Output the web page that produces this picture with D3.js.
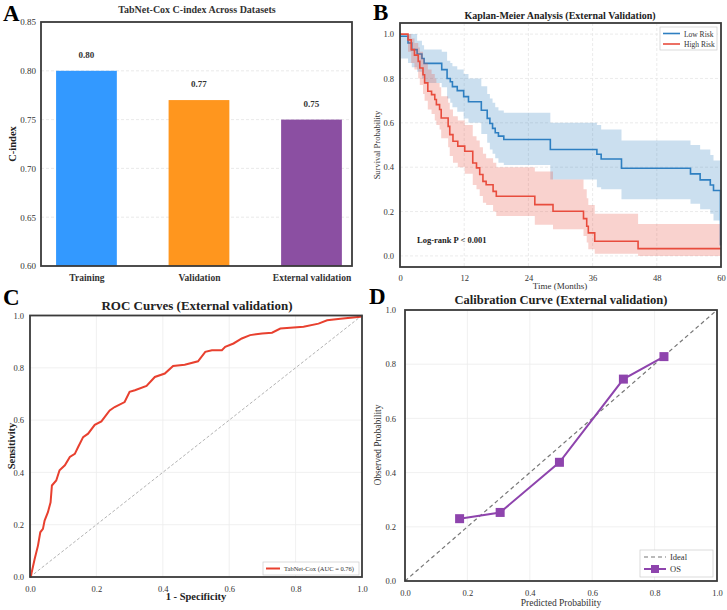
<!DOCTYPE html>
<html>
<head>
<meta charset="utf-8">
<script src="https://d3js.org/d3.v7.min.js"></script>
<style>
  body { margin: 0; background: #fff; }
  svg text { font-family: "Liberation Serif", "Times New Roman", serif; }
</style>
</head>
<body>
<svg id="fig" width="727" height="610"></svg>
<script>
// ---- data ----
const categories = ["Training", "Validation", "External validation"];
const cindex = [0.80, 0.77, 0.75];
const barColors = ["#3399ff", "#ff961e", "#8b4fa2"];
const cindexTicks = [0.60, 0.65, 0.70, 0.75, 0.80, 0.85];

// Kaplan-Meier, low risk
const lowTime  = [0, 1.5, 2.2, 3.2, 4.1, 4.5, 7.8, 8.8, 9.4, 9.8, 10.7, 11.9, 12.8, 15.2, 16.3, 16.8, 17.3, 17.8, 18.4, 19.4, 28.1, 36.8, 37.6, 41.4, 54.3, 56.1, 58.0, 58.6, 59.9];
const lowSurv  = [0.99, 0.96, 0.93, 0.91, 0.89, 0.868, 0.84, 0.80, 0.785, 0.763, 0.745, 0.718, 0.695, 0.657, 0.62, 0.597, 0.575, 0.555, 0.54, 0.525, 0.48, 0.458, 0.437, 0.395, 0.37, 0.343, 0.32, 0.295, 0.05];
const lowLower = [0.89, 0.87, 0.85, 0.83, 0.80, 0.78, 0.76, 0.71, 0.69, 0.67, 0.65, 0.62, 0.60, 0.55, 0.51, 0.48, 0.46, 0.44, 0.42, 0.41, 0.345, 0.31, 0.30, 0.255, 0.235, 0.21, 0.19, 0.16, 0.16];
const lowUpper = [1.0, 1.0, 1.0, 0.97, 0.95, 0.93, 0.92, 0.88, 0.87, 0.855, 0.84, 0.82, 0.80, 0.765, 0.73, 0.71, 0.69, 0.67, 0.655, 0.645, 0.60, 0.59, 0.57, 0.52, 0.50, 0.48, 0.455, 0.43, 0.43];

// Kaplan-Meier, high risk
const highTime  = [0, 1.5, 2.1, 2.7, 3.4, 3.7, 4.3, 4.6, 5.2, 5.9, 6.5, 6.8, 7.4, 7.7, 9.0, 9.3, 9.9, 10.8, 12.1, 13.6, 14.3, 14.9, 15.5, 16.1, 17.4, 18.0, 25.2, 28.6, 34.3, 34.9, 35.2, 36.4, 44.5];
const highSurv  = [1.0, 0.974, 0.93, 0.905, 0.877, 0.847, 0.817, 0.78, 0.742, 0.727, 0.705, 0.682, 0.66, 0.622, 0.584, 0.547, 0.517, 0.495, 0.472, 0.419, 0.397, 0.367, 0.336, 0.321, 0.291, 0.269, 0.231, 0.201, 0.168, 0.134, 0.104, 0.066, 0.033];
const highLower = [1.0, 0.92, 0.87, 0.84, 0.80, 0.77, 0.73, 0.70, 0.66, 0.64, 0.61, 0.59, 0.57, 0.53, 0.49, 0.45, 0.42, 0.40, 0.37, 0.32, 0.30, 0.27, 0.24, 0.23, 0.20, 0.18, 0.14, 0.12, 0.09, 0.06, 0.03, 0.01, 0.0];
const highUpper = [1.0, 1.0, 0.98, 0.96, 0.94, 0.92, 0.89, 0.87, 0.84, 0.82, 0.80, 0.78, 0.76, 0.72, 0.69, 0.66, 0.63, 0.61, 0.59, 0.54, 0.52, 0.49, 0.46, 0.44, 0.42, 0.40, 0.38, 0.344, 0.30, 0.26, 0.23, 0.19, 0.144];
const timeTicks = [0, 12, 24, 36, 48, 60];

// ROC curve
const rocFpr = [0, 0.002, 0.014, 0.024, 0.031, 0.039, 0.044, 0.054, 0.062, 0.066, 0.079, 0.089, 0.105, 0.12, 0.135, 0.145, 0.16, 0.175, 0.195, 0.215, 0.24, 0.255, 0.285, 0.30, 0.316, 0.351, 0.376, 0.406, 0.431, 0.466, 0.506, 0.528, 0.548, 0.578, 0.588, 0.613, 0.638, 0.663, 0.699, 0.729, 0.754, 0.824, 0.869, 0.895, 0.935, 0.995, 1.0];
const rocTpr = [0, 0.0, 0.069, 0.12, 0.171, 0.184, 0.216, 0.248, 0.286, 0.35, 0.369, 0.408, 0.427, 0.459, 0.471, 0.497, 0.535, 0.548, 0.582, 0.595, 0.637, 0.65, 0.669, 0.708, 0.714, 0.731, 0.765, 0.778, 0.807, 0.812, 0.825, 0.861, 0.867, 0.867, 0.88, 0.893, 0.912, 0.925, 0.931, 0.934, 0.95, 0.957, 0.969, 0.982, 0.988, 0.995, 1.0];

// Calibration
const calPred = [0.175, 0.305, 0.495, 0.70, 0.83];
const calObs  = [0.23, 0.253, 0.438, 0.745, 0.828];
const probTicks = [0, 0.2, 0.4, 0.6, 0.8, 1.0];

const lowColor = "#2e7fc1", highColor = "#e84c3d", calColor = "#8e44ad";

const svg = d3.select("#fig");

function frame(g, x0, x1, y0, y1) {
  g.append("rect").attr("x", x0).attr("y", y0).attr("width", x1 - x0).attr("height", y1 - y0)
    .attr("fill", "none").attr("stroke", "#3a3a3a").attr("stroke-width", 1.8);
}
function styleAxis(sel, size) {
  sel.select(".domain").remove();
  sel.selectAll(".tick line").remove();
  sel.selectAll("text").attr("font-size", size).attr("fill", "#333")
    .style("font-family", "'Liberation Serif', serif");
}
function letter(t, x, y) {
  svg.append("text").attr("x", x).attr("y", y).text(t)
    .attr("font-size", 23).attr("font-weight", "bold").attr("fill", "#000");
}

// ===== Panel A: bar chart =====
(function () {
  const g = svg.append("g");
  const x = d3.scaleLinear().domain([-0.404, 2.36]).range([41, 352]);
  const y = d3.scaleLinear().domain([0.60, 0.85]).range([266, 22]);
  g.selectAll(".grid").data(cindexTicks.slice(1, -1)).enter().append("line")
    .attr("x1", 41).attr("x2", 352).attr("y1", d => y(d)).attr("y2", d => y(d))
    .attr("stroke", "#e4e4e4").attr("stroke-dasharray", "3,2").attr("stroke-width", 0.8);
  const bw = 0.54;
  g.selectAll(".bar").data(cindex).enter().append("rect")
    .attr("x", (d, i) => x(i - bw / 2)).attr("width", x(bw) - x(0))
    .attr("y", d => y(d)).attr("height", d => y(0.60) - y(d))
    .attr("fill", (d, i) => barColors[i]);
  g.selectAll(".val").data(cindex).enter().append("text")
    .attr("x", (d, i) => x(i)).attr("y", d => y(d) - 13)
    .attr("text-anchor", "middle").attr("font-size", 9).attr("font-weight", "bold").attr("fill", "#333")
    .text(d => d.toFixed(2));
  const ya = g.append("g").attr("transform", "translate(36,0)")
    .call(d3.axisLeft(y).tickValues(cindexTicks).tickFormat(d3.format(".2f")).tickSize(0));
  styleAxis(ya, 9);
  ya.selectAll("text").attr("x", 0);
  const xa = g.append("g").attr("transform", "translate(0,272)")
    .call(d3.axisBottom(x).tickValues([0, 1, 2]).tickFormat(i => categories[i]).tickSize(0));
  styleAxis(xa, 9.5);
  xa.selectAll("text").attr("font-weight", "bold").attr("dy", "0.71em").attr("y", 2);
  frame(g, 41, 352, 22, 266);
  g.append("text").attr("x", 197).attr("y", 13).attr("text-anchor", "middle")
    .attr("font-size", 10).attr("font-weight", "bold").attr("fill", "#333")
    .text("TabNet-Cox C-index Across Datasets");
  g.append("text").attr("transform", "translate(16,144) rotate(-90)").attr("text-anchor", "middle")
    .attr("font-size", 10.5).attr("font-weight", "bold").attr("fill", "#222").text("C-index");
  letter("A", 3, 21);
})();

// ===== Panel B: Kaplan-Meier =====
(function () {
  const g = svg.append("g");
  const x = d3.scaleLinear().domain([0, 60]).range([400, 721]);
  const y = d3.scaleLinear().domain([-0.05, 1.05]).range([267, 23]);
  timeTicks.slice(1, -1).forEach(t => g.append("line")
    .attr("x1", x(t)).attr("x2", x(t)).attr("y1", 23).attr("y2", 267)
    .attr("stroke", "#e6e6e6").attr("stroke-dasharray", "3,2").attr("stroke-width", 0.8));
  [0, 0.2, 0.4, 0.6, 0.8, 1.0].forEach(v => g.append("line")
    .attr("x1", 400).attr("x2", 721).attr("y1", y(v)).attr("y2", y(v))
    .attr("stroke", "#e6e6e6").attr("stroke-dasharray", "3,2").attr("stroke-width", 0.8));

  function series(time, surv, lo, up, color) {
    const pts = time.map((t, i) => ({ t: t, s: surv[i], lo: lo[i], up: up[i] }));
    const last = pts[pts.length - 1];
    pts.push({ t: 60, s: last.s, lo: last.lo, up: last.up });
    g.append("path").datum(pts)
      .attr("d", d3.area().curve(d3.curveStepAfter).x(d => x(d.t)).y0(d => y(d.lo)).y1(d => y(d.up)))
      .attr("fill", color).attr("fill-opacity", 0.25);
    g.append("path").datum(pts)
      .attr("d", d3.line().curve(d3.curveStepAfter).x(d => x(d.t)).y(d => y(d.s)))
      .attr("fill", "none").attr("stroke", color).attr("stroke-width", 1.6);
  }
  series(lowTime, lowSurv, lowLower, lowUpper, lowColor);
  series(highTime, highSurv, highLower, highUpper, highColor);

  const xa = g.append("g").attr("transform", "translate(0,272)")
    .call(d3.axisBottom(x).tickValues(timeTicks).tickSize(0));
  styleAxis(xa, 8.5);
  const ya = g.append("g").attr("transform", "translate(394,0)")
    .call(d3.axisLeft(y).tickValues([0, 0.2, 0.4, 0.6, 0.8, 1.0]).tickFormat(d3.format(".1f")).tickSize(0));
  styleAxis(ya, 8.5);
  ya.selectAll("text").attr("x", 0);
  frame(g, 400, 721, 23, 267);

  // legend
  const lg = g.append("g");
  lg.append("rect").attr("x", 660).attr("y", 27).attr("width", 57).attr("height", 23)
    .attr("fill", "#fff").attr("stroke", "#ccc").attr("stroke-width", 0.7);
  [["Low Risk", lowColor], ["High Risk", highColor]].forEach((d, i) => {
    lg.append("line").attr("x1", 663).attr("x2", 680).attr("y1", 33.5 + i * 10.5).attr("y2", 33.5 + i * 10.5)
      .attr("stroke", d[1]).attr("stroke-width", 1.6);
    lg.append("text").attr("x", 684).attr("y", 36.5 + i * 10.5).attr("font-size", 7.5).attr("fill", "#333").text(d[0]);
  });

  g.append("text").attr("x", 417).attr("y", 243).attr("font-size", 8.5).attr("font-weight", "bold")
    .attr("fill", "#222").text("Log-rank P < 0.001");
  g.append("text").attr("x", 560).attr("y", 19).attr("text-anchor", "middle")
    .attr("font-size", 10).attr("font-weight", "bold").attr("fill", "#222")
    .text("Kaplan-Meier Analysis (External Validation)");
  g.append("text").attr("x", 560).attr("y", 289).attr("text-anchor", "middle")
    .attr("font-size", 9).attr("fill", "#333").text("Time (Months)");
  g.append("text").attr("transform", "translate(380,145) rotate(-90)").attr("text-anchor", "middle")
    .attr("font-size", 8.5).attr("fill", "#333").text("Survival Probability");
  letter("B", 373, 20);
})();

// ===== Panel C: ROC =====
(function () {
  const g = svg.append("g");
  const x = d3.scaleLinear().domain([0, 1]).range([30, 362]);
  const y = d3.scaleLinear().domain([0, 1]).range([577, 315.5]);
  probTicks.slice(1, -1).forEach(v => {
    g.append("line").attr("x1", x(v)).attr("x2", x(v)).attr("y1", 315.5).attr("y2", 577)
      .attr("stroke", "#ececec").attr("stroke-width", 0.8);
    g.append("line").attr("x1", 30).attr("x2", 362).attr("y1", y(v)).attr("y2", y(v))
      .attr("stroke", "#ececec").attr("stroke-width", 0.8);
  });
  g.append("line").attr("x1", x(0)).attr("y1", y(0)).attr("x2", x(1)).attr("y2", y(1))
    .attr("stroke", "#a0a0a0").attr("stroke-width", 0.8).attr("stroke-dasharray", "3,2");
  const pts = rocFpr.map((f, i) => [f, rocTpr[i]]);
  g.append("path").datum(pts)
    .attr("d", d3.line().x(d => x(d[0])).y(d => y(d[1])))
    .attr("fill", "none").attr("stroke", "#e8402f").attr("stroke-width", 2);

  const xa = g.append("g").attr("transform", "translate(0,583)")
    .call(d3.axisBottom(x).tickValues(probTicks).tickFormat(d3.format(".1f")).tickSize(0));
  styleAxis(xa, 8.5);
  const ya = g.append("g").attr("transform", "translate(24,0)")
    .call(d3.axisLeft(y).tickValues(probTicks).tickFormat(d3.format(".1f")).tickSize(0));
  styleAxis(ya, 8.5);
  ya.selectAll("text").attr("x", 0);
  frame(g, 30, 362, 315.5, 577);

  g.append("rect").attr("x", 263).attr("y", 562).attr("width", 96).attr("height", 13)
    .attr("fill", "#fff").attr("stroke", "#ccc").attr("stroke-width", 0.7);
  g.append("line").attr("x1", 266).attr("x2", 280).attr("y1", 568.5).attr("y2", 568.5)
    .attr("stroke", "#e8402f").attr("stroke-width", 2);
  g.append("text").attr("x", 284).attr("y", 571).attr("font-size", 6.5).attr("fill", "#333")
    .text("TabNet-Cox (AUC = 0.76)");

  g.append("text").attr("x", 197).attr("y", 310).attr("text-anchor", "middle")
    .attr("font-size", 13).attr("font-weight", "bold").attr("fill", "#222")
    .text("ROC Curves (External validation)");
  g.append("text").attr("x", 196).attr("y", 600).attr("text-anchor", "middle")
    .attr("font-size", 10.5).attr("font-weight", "bold").attr("fill", "#222").text("1 - Specificity");
  g.append("text").attr("transform", "translate(15,446) rotate(-90)").attr("text-anchor", "middle")
    .attr("font-size", 10.5).attr("font-weight", "bold").attr("fill", "#222").text("Sensitivity");
  letter("C", 3, 305);
})();

// ===== Panel D: calibration =====
(function () {
  const g = svg.append("g");
  const x = d3.scaleLinear().domain([0, 1]).range([405, 717]);
  const y = d3.scaleLinear().domain([0, 1]).range([581, 310]);
  probTicks.slice(1, -1).forEach(v => {
    g.append("line").attr("x1", x(v)).attr("x2", x(v)).attr("y1", 310).attr("y2", 581)
      .attr("stroke", "#ececec").attr("stroke-width", 0.8);
    g.append("line").attr("x1", 405).attr("x2", 717).attr("y1", y(v)).attr("y2", y(v))
      .attr("stroke", "#ececec").attr("stroke-width", 0.8);
  });
  g.append("line").attr("x1", x(0)).attr("y1", y(0)).attr("x2", x(1)).attr("y2", y(1))
    .attr("stroke", "#777").attr("stroke-width", 1.2).attr("stroke-dasharray", "4,3");
  const pts = calPred.map((p, i) => [p, calObs[i]]);
  g.append("path").datum(pts)
    .attr("d", d3.line().x(d => x(d[0])).y(d => y(d[1])))
    .attr("fill", "none").attr("stroke", calColor).attr("stroke-width", 2);
  g.selectAll(".mk").data(pts).enter().append("rect")
    .attr("x", d => x(d[0]) - 4.5).attr("y", d => y(d[1]) - 4.5)
    .attr("width", 9).attr("height", 9).attr("fill", calColor);

  const xa = g.append("g").attr("transform", "translate(0,587)")
    .call(d3.axisBottom(x).tickValues(probTicks).tickFormat(d3.format(".1f")).tickSize(0));
  styleAxis(xa, 8.5);
  const ya = g.append("g").attr("transform", "translate(396,0)")
    .call(d3.axisLeft(y).tickValues(probTicks).tickFormat(d3.format(".1f")).tickSize(0));
  styleAxis(ya, 8.5);
  ya.selectAll("text").attr("x", 0);
  frame(g, 405, 717, 310, 581);

  const lg = g.append("g");
  lg.append("rect").attr("x", 640).attr("y", 550).attr("width", 73).attr("height", 27)
    .attr("fill", "#fff").attr("stroke", "#ccc").attr("stroke-width", 0.7);
  lg.append("line").attr("x1", 644).attr("x2", 666).attr("y1", 557).attr("y2", 557)
    .attr("stroke", "#777").attr("stroke-width", 1.2).attr("stroke-dasharray", "4,3");
  lg.append("text").attr("x", 670).attr("y", 560).attr("font-size", 8.5).attr("fill", "#333").text("Ideal");
  lg.append("line").attr("x1", 644).attr("x2", 666).attr("y1", 569).attr("y2", 569)
    .attr("stroke", calColor).attr("stroke-width", 2);
  lg.append("rect").attr("x", 651).attr("y", 565).attr("width", 8).attr("height", 8).attr("fill", calColor);
  lg.append("text").attr("x", 670).attr("y", 572).attr("font-size", 8.5).attr("fill", "#333").text("OS");

  g.append("text").attr("x", 561).attr("y", 304).attr("text-anchor", "middle")
    .attr("font-size", 12.5).attr("font-weight", "bold").attr("fill", "#222")
    .text("Calibration Curve (External validation)");
  g.append("text").attr("x", 561).attr("y", 606).attr("text-anchor", "middle")
    .attr("font-size", 9.5).attr("fill", "#333").text("Predicted Probability");
  g.append("text").attr("transform", "translate(381,445) rotate(-90)").attr("text-anchor", "middle")
    .attr("font-size", 9.5).attr("fill", "#333").text("Observed Probability");
  letter("D", 369, 304);
})();
</script>
</body>
</html>
